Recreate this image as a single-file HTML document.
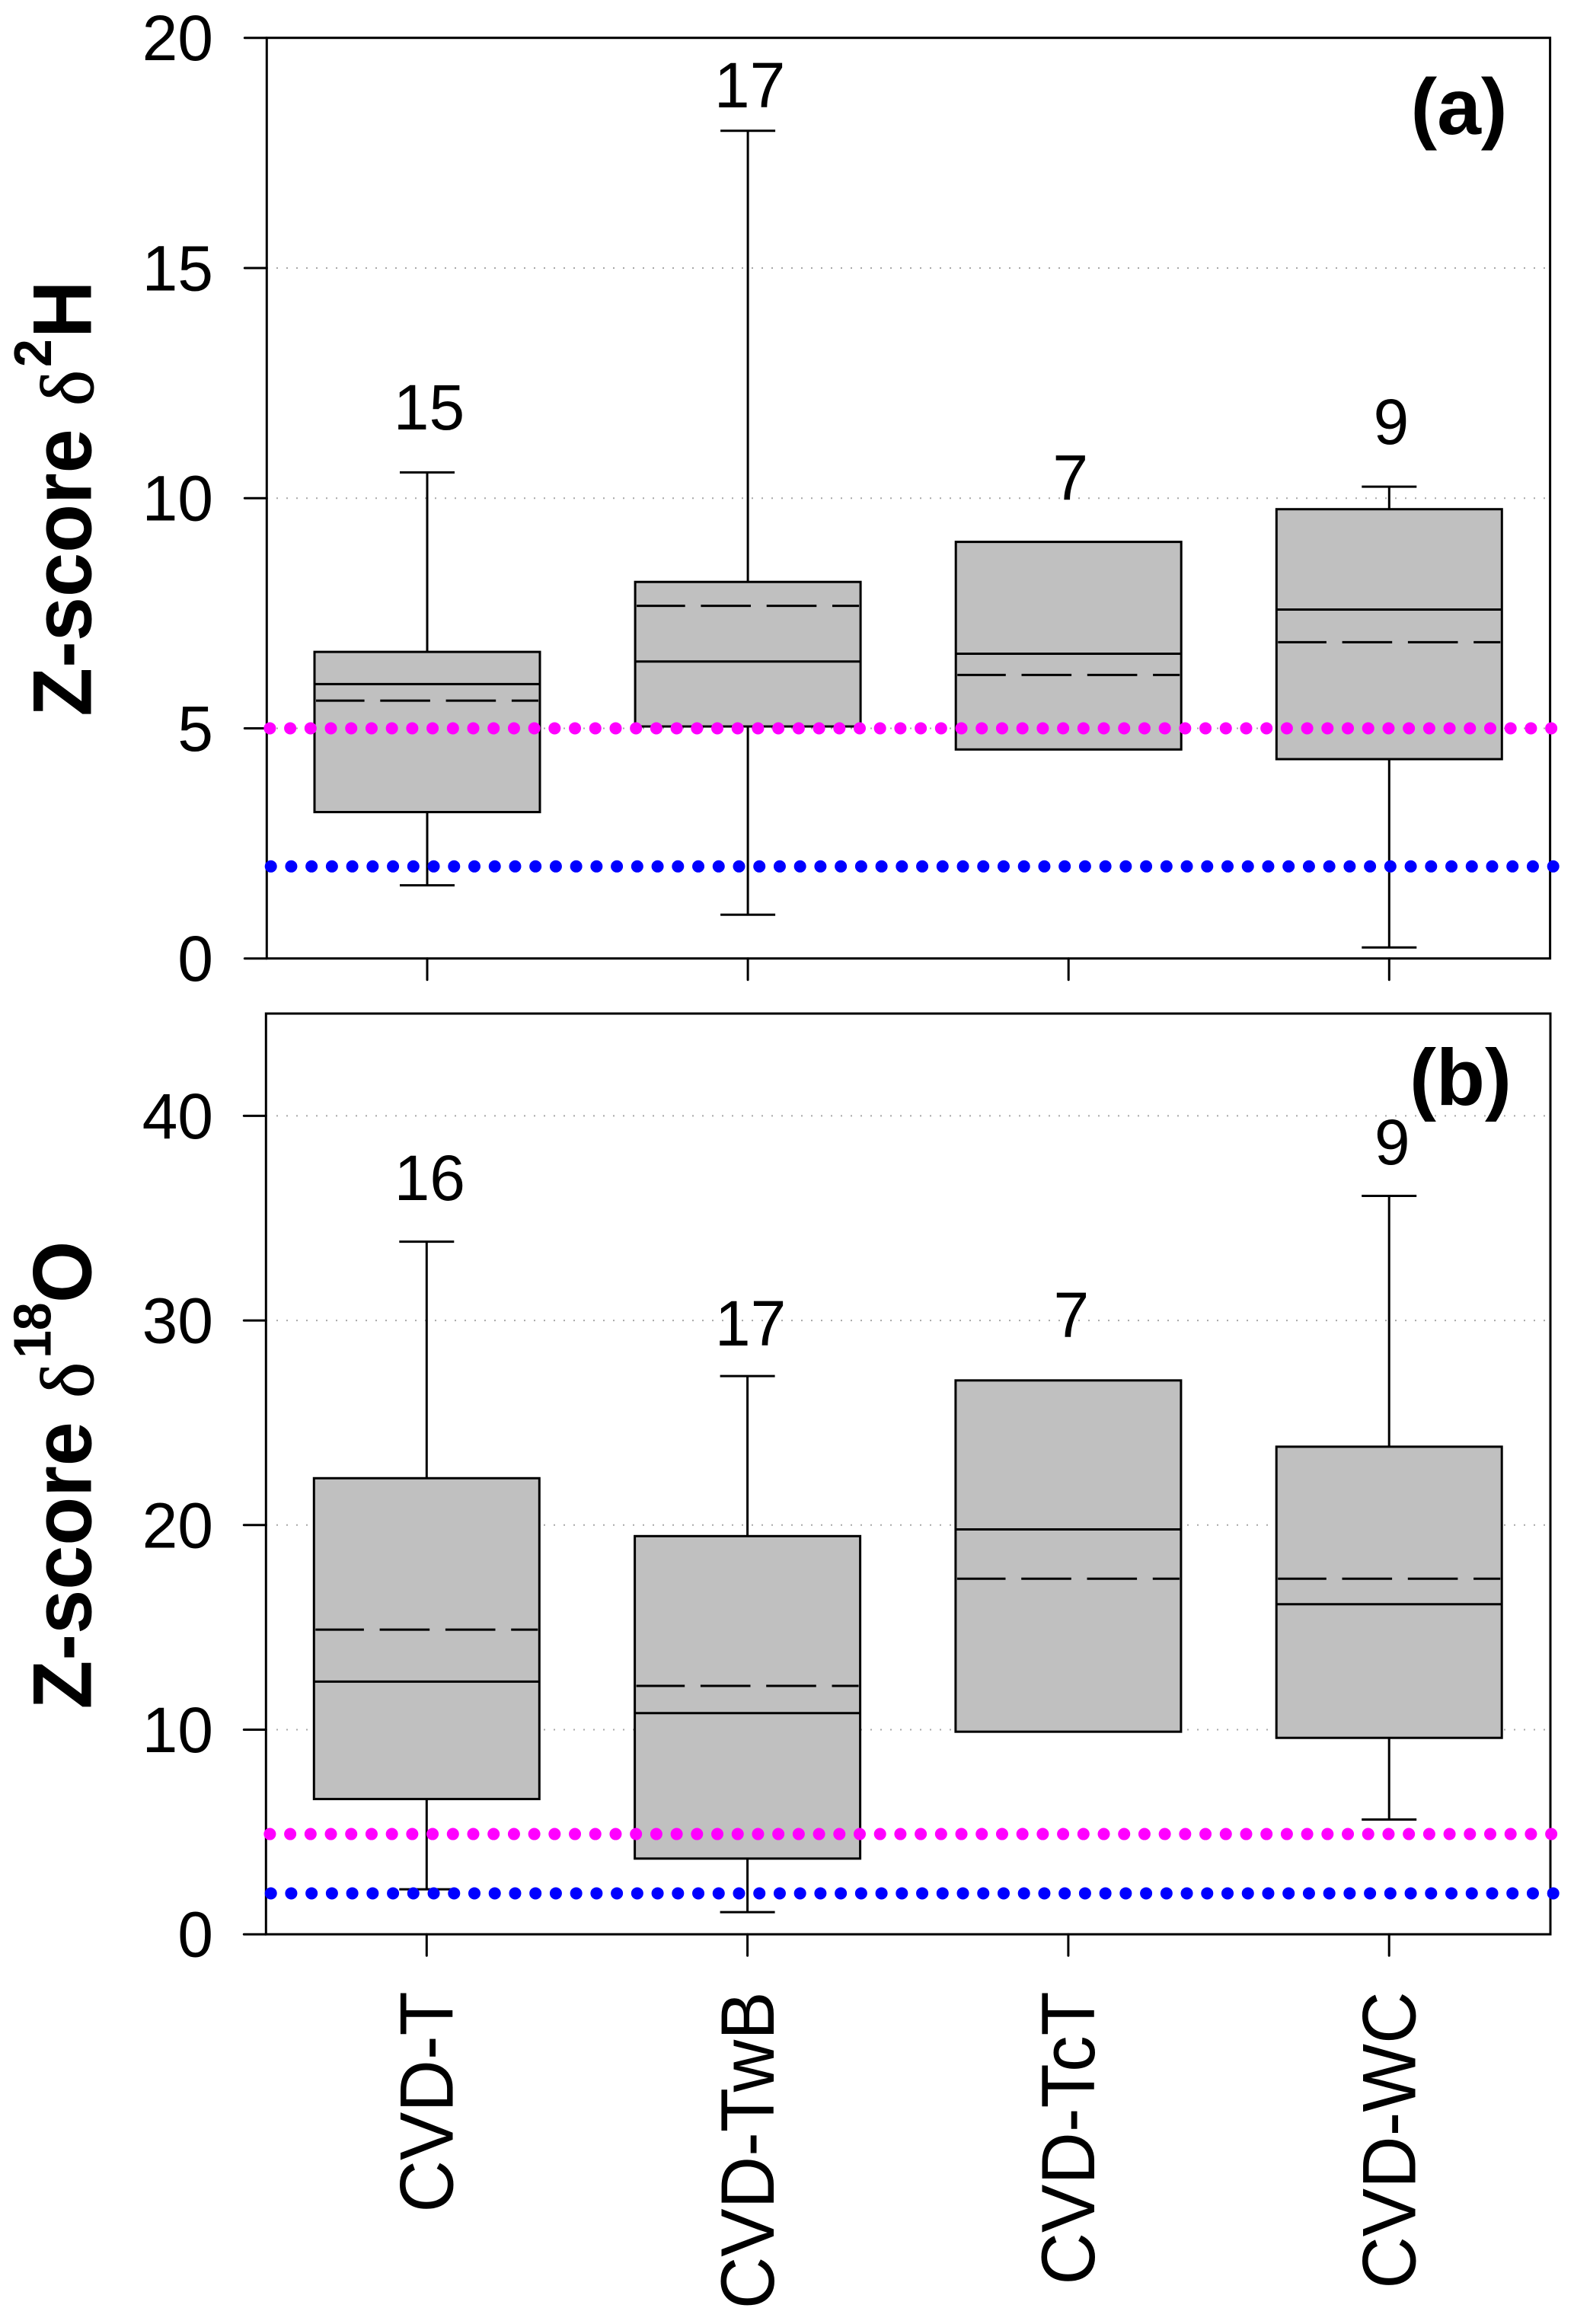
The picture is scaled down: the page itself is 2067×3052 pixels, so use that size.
<!DOCTYPE html>
<html lang="en">
<head>
<meta charset="utf-8">
<title>Z-score box plots</title>
<style>
html,body{margin:0;padding:0;background:#fff;}
svg{display:block;}
text{font-family:"Liberation Sans",sans-serif;fill:#000;}
</style>
</head>
<body>
<svg id="chart" xmlns="http://www.w3.org/2000/svg" width="2067" height="3052" viewBox="0 0 2067 3052">
  <rect x="0" y="0" width="2067" height="3052" fill="#ffffff"/>
  <g id="panel-a"></g>
  <g id="panel-b"></g>

  <g>
    <text transform="translate(119.3,940.7) rotate(-90) scale(1,1.05)" font-size="104.5" font-weight="bold">Z-score</text>
    <text transform="translate(122,533) rotate(-90)" font-size="100" stroke="#000" stroke-width="1" style="font-family:'Liberation Serif',serif">δ</text>
    <text transform="translate(67,482) rotate(-90) scale(1,1.05)" font-size="66" font-weight="bold">2</text>
    <text transform="translate(119.3,444) rotate(-90) scale(1,1.05)" font-size="104.5" font-weight="bold">H</text>
  </g>
  <g>
    <text transform="translate(119.3,2244.5) rotate(-90) scale(1,1.05)" font-size="104.5" font-weight="bold">Z-score</text>
    <text transform="translate(122,1836) rotate(-90)" font-size="100" stroke="#000" stroke-width="1" style="font-family:'Liberation Serif',serif">δ</text>
    <text transform="translate(66.7,1783.8) rotate(-90) scale(1,1.05)" font-size="66" font-weight="bold">18</text>
    <text transform="translate(119.3,1711) rotate(-90) scale(1,1.05)" font-size="104.5" font-weight="bold">O</text>
  </g>

  <text x="1916" y="176" text-anchor="middle" font-size="104" font-weight="bold">(a)</text>
  <text x="1918" y="1451" text-anchor="middle" font-size="105" font-weight="bold">(b)</text>
</svg>
<script>
var categories = ['CVD-T', 'CVD-TwB', 'CVD-TcT', 'CVD-WC'];

var aTicks = [0, 5, 10, 15, 20];
var aGrid = [5, 10, 15];
var aQ3 = [6.66, 8.18, 9.05, 9.76];
var aQ1 = [3.18, 5.04, 4.54, 4.33];
var aMedian = [5.96, 6.45, 6.62, 7.58];
var aMean = [5.60, 7.66, 6.16, 6.87];
var aWhiskerHigh = [10.56, 17.98, null, 10.25];
var aWhiskerLow = [1.59, 0.95, null, 0.24];
var aCounts = [15, 17, 7, 9];
var aCountLift = [0.93, 0.51, 0.91, 0.93];
var aRefHigh = 5;
var aRefLow = 2;

var bTicks = [0, 10, 20, 30, 40];
var bGrid = [10, 20, 30, 40];
var bQ3 = [22.29, 19.46, 27.07, 23.83];
var bQ1 = [6.61, 3.70, 9.90, 9.60];
var bMedian = [12.35, 10.81, 19.79, 16.13];
var bMean = [14.89, 12.14, 17.38, 17.38];
var bWhiskerHigh = [33.85, 27.28, null, 36.09];
var bWhiskerLow = [2.20, 1.08, null, 5.61];
var bCounts = [16, 17, 7, 9];
var bCountLift = [2.03, 1.50, 2.11, 1.54];
var bRefHigh = 4.9;
var bRefLow = 2;

var NS = 'http://www.w3.org/2000/svg';

function mk(tag, attrs, parent) {
  var el = document.createElementNS(NS, tag);
  for (var k in attrs) { el.setAttribute(k, attrs[k]); }
  parent.appendChild(el);
  return el;
}

function drawPanel(host, cfg) {
  function y(v) { return cfg.yZero - v * cfg.yUnit; }
  function x(i) { return cfg.xFirst + i * cfg.xStep; }
  var LW = 3;
  var i, el;

  cfg.grid.forEach(function (g) {
    var gl = mk('line', { x1: 363, x2: 2033, y1: y(g), y2: y(g), stroke: '#a8a8a8', 'stroke-width': 2, 'stroke-dasharray': '2 11' }, host);
    
    
  });

  for (i = 0; i < categories.length; i++) {
    var cx = x(i);
    if (cfg.whiskerHigh[i] !== null) {
      el = mk('line', { x1: cx, x2: cx, y1: y(cfg.whiskerHigh[i]), y2: y(cfg.q3[i]), stroke: '#000', 'stroke-width': LW }, host);
      
      
      el = mk('line', { x1: cx - 36, x2: cx + 36, y1: y(cfg.whiskerHigh[i]), y2: y(cfg.whiskerHigh[i]), stroke: '#000', 'stroke-width': LW }, host);
      
      
      el = mk('line', { x1: cx, x2: cx, y1: y(cfg.q1[i]), y2: y(cfg.whiskerLow[i]), stroke: '#000', 'stroke-width': LW }, host);
      
      
      el = mk('line', { x1: cx - 36, x2: cx + 36, y1: y(cfg.whiskerLow[i]), y2: y(cfg.whiskerLow[i]), stroke: '#000', 'stroke-width': LW }, host);
      
      
    }
    el = mk('rect', { x: cx - 148, y: y(cfg.q3[i]), width: 296, height: y(cfg.q1[i]) - y(cfg.q3[i]), fill: '#c0c0c0', stroke: '#000', 'stroke-width': LW }, host);
    
    
    el = mk('line', { x1: cx - 148, x2: cx + 148, y1: y(cfg.median[i]), y2: y(cfg.median[i]), stroke: '#000', 'stroke-width': 3 }, host);
    
    
    el = mk('line', { x1: cx - 146, x2: cx + 146, y1: y(cfg.mean[i]), y2: y(cfg.mean[i]), stroke: '#000', 'stroke-width': 3, 'stroke-dasharray': '65.6 20.7', 'stroke-dashoffset': 2 }, host);
    
    

    var top = cfg.whiskerHigh[i] !== null ? cfg.whiskerHigh[i] : cfg.q3[i];
    el = mk('text', { x: cx + cfg.countNudge, y: y(top + cfg.countLift[i]), 'text-anchor': 'middle', 'font-size': 84 }, host);
    el.textContent = String(cfg.counts[i]);
    
    
  }

  el = mk('rect', { x: cfg.left, y: y(cfg.yMax), width: cfg.right - cfg.left, height: cfg.yZero - y(cfg.yMax), fill: 'none', stroke: '#000', 'stroke-width': LW }, host);
  
  

  cfg.ticks.forEach(function (t) {
    var tl = mk('line', { x1: cfg.left - 29, x2: cfg.left, y1: y(t), y2: y(t), stroke: '#000', 'stroke-width': LW, 'stroke-linecap': 'round' }, host);
    
    
    var lb = mk('text', { x: 280, y: y(t) + 29.5, 'text-anchor': 'end', 'font-size': 84 }, host);
    lb.textContent = String(t);
    
    
  });

  for (i = 0; i < categories.length; i++) {
    el = mk('line', { x1: x(i), x2: x(i), y1: cfg.yZero, y2: cfg.yZero + 28, stroke: '#000', 'stroke-width': LW, 'stroke-linecap': 'round' }, host);
    
    
  }

  el = mk('line', { x1: 354.4, x2: 2037.5, y1: y(cfg.refHigh), y2: y(cfg.refHigh), stroke: '#ff00ff', 'stroke-width': 16, 'stroke-linecap': 'round', 'stroke-dasharray': '0 26.71' }, host);
  
  
  el = mk('line', { x1: 355.7, x2: 2040, y1: y(cfg.refLow), y2: y(cfg.refLow), stroke: '#0000ff', 'stroke-width': 16, 'stroke-linecap': 'round', 'stroke-dasharray': '0 26.73' }, host);
  
  

  if (cfg.showCategories) {
    for (i = 0; i < categories.length; i++) {
      el = mk('text', { transform: 'translate(' + (x(i) + 34.2) + ',2615.4) rotate(-90) scale(1,1.046)', 'text-anchor': 'end', 'font-size': 95 }, host);
      el.textContent = categories[i];
      
      
    }
  }
}

drawPanel(document.getElementById('panel-a'), {
  yZero: 1258.7, yUnit: 60.45, yMax: 20, left: 350.3, right: 2035.6,
  xFirst: 561, xStep: 421.1, countNudge: 2.5,
  ticks: aTicks, grid: aGrid, q3: aQ3, q1: aQ1, median: aMedian, mean: aMean,
  whiskerHigh: aWhiskerHigh, whiskerLow: aWhiskerLow, counts: aCounts, countLift: aCountLift,
  refHigh: aRefHigh, refLow: aRefLow, showCategories: false
});
drawPanel(document.getElementById('panel-b'), {
  yZero: 2540.2, yUnit: 26.87, yMax: 45, left: 349.3, right: 2036,
  xFirst: 560.3, xStep: 421.3, countNudge: 4,
  ticks: bTicks, grid: bGrid, q3: bQ3, q1: bQ1, median: bMedian, mean: bMean,
  whiskerHigh: bWhiskerHigh, whiskerLow: bWhiskerLow, counts: bCounts, countLift: bCountLift,
  refHigh: bRefHigh, refLow: bRefLow, showCategories: true
});
</script>
</body>
</html>
